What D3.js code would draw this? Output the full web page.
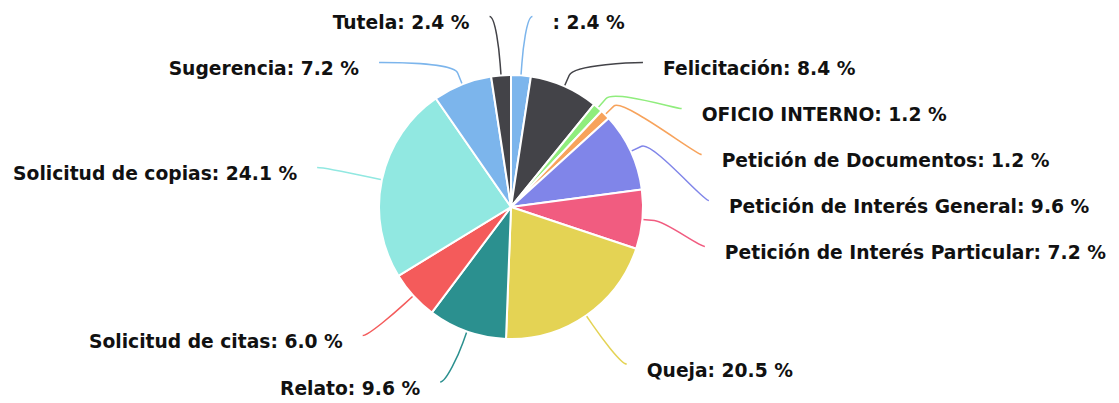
<!DOCTYPE html>
<html>
<head>
<meta charset="utf-8">
<script src="https://cdn.jsdelivr.net/npm/d3@7"></script>
<style>
  body { margin: 0; background: #fff; }
  text { font-family: "DejaVu Sans", sans-serif; font-weight: bold; font-size: 18.7px; fill: #111; }
</style>
</head>
<body>
<div id="chart"></div>
<script>

// Categories and counts (percentages are computed from the counts)
var categories = [
    ''
  , 'Felicitación'
  , 'OFICIO INTERNO'
  , 'Petición de Documentos'
  , 'Petición de Interés General'
  , 'Petición de Interés Particular'
  , 'Queja'
  , 'Relato'
  , 'Solicitud de citas'
  , 'Solicitud de copias'
  , 'Sugerencia'
  , 'Tutela'
];

var counts = [2, 7, 1, 1, 8, 6, 17, 8, 5, 20, 6, 2];

var colors = [
    '#7cb5ec', '#434348', '#90ed7d', '#f7a35c', '#8085e9', '#f15c80'
  , '#e4d354', '#2b908f', '#f45b5b', '#91e8e1', '#7cb5ec', '#434348'
];


var width = 1119
  , height = 403
  , cx = 511
  , cy = 207
  , radius = 132
  , labelRadius = 191
  , padding = 7
  , lineHeight = 46
  , minY = 15 - cy
  , maxY = 382 - cy;

var total = d3.sum(counts);

var data = categories.map(function(c, i) {
  return { name: c, value: counts[i], color: colors[i] };
});

var svg = d3.select('#chart').append('svg')
    .attr('width', width)
    .attr('height', height)
  .append('g')
    .attr('transform', 'translate(' + cx + ',' + cy + ')');

var pie = d3.pie().sort(null).value(function(d) { return d.value; });
var arc = d3.arc().innerRadius(0).outerRadius(radius);
var arcs = pie(data);


/**
 * Label layout: natural position on a bigger circle,
 * then push labels apart on each side.
 */
arcs.forEach(function(d) {
  d.mid = (d.startAngle + d.endAngle) / 2;
  d.side = d.mid < Math.PI ? 1 : -1;
  d.natY = -Math.cos(d.mid) * labelRadius;
  d.ly = d.natY;
});

[1, -1].forEach(function(side) {
  var list = arcs.filter(function(d) { return d.side === side; })
    .sort(function(a, b) { return a.ly - b.ly; });
  var i;
  for (i = 0; i < list.length; i++) {
    list[i].ly = Math.max(list[i].ly, minY);
    if (i > 0) list[i].ly = Math.max(list[i].ly, list[i - 1].ly + lineHeight);
  }
  for (i = list.length - 1; i >= 0; i--) {
    list[i].ly = Math.min(list[i].ly, maxY);
    if (i < list.length - 1) list[i].ly = Math.min(list[i].ly, list[i + 1].ly - lineHeight);
  }
});

// labels stuck at top / bottom keep their natural x
arcs.forEach(function(d) {
  var y = (d.ly < minY + 2 || d.ly > maxY - 2) ? d.natY : d.ly;
  y = Math.max(-labelRadius, Math.min(labelRadius, y));
  d.lx = d.side * (Math.sqrt(labelRadius * labelRadius - y * y) + padding);
});


function connector(d) {
  var tx = Math.sin(d.mid) * radius
    , ty = -Math.cos(d.mid) * radius
    , bx = Math.sin(d.mid) * (radius + 12)
    , by = -Math.cos(d.mid) * (radius + 12);
  return 'M' + d.lx + ',' + d.ly
    + 'C' + (d.lx - 6 * d.side) + ',' + d.ly
    + ' ' + (2 * bx - tx) + ',' + (2 * by - ty)
    + ' ' + bx + ',' + by
    + 'L' + tx + ',' + ty;
}

// connectors
svg.selectAll('path.connector')
    .data(arcs)
  .enter().append('path')
    .attr('class', 'connector')
    .attr('d', connector)
    .attr('fill', 'none')
    .attr('stroke', function(d) { return d.data.color; })
    .attr('stroke-width', 1.5);

// slices
svg.selectAll('path.slice')
    .data(arcs)
  .enter().append('path')
    .attr('class', 'slice')
    .attr('d', arc)
    .attr('fill', function(d) { return d.data.color; })
    .attr('stroke', '#fff')
    .attr('stroke-width', 2)
    .attr('stroke-linejoin', 'round');

// labels
svg.selectAll('text.label')
    .data(arcs)
  .enter().append('text')
    .attr('class', 'label')
    .attr('x', function(d) { return d.lx + 20 * d.side; })
    .attr('y', function(d) { return d.ly + 6; })
    .attr('dy', '0.35em')
    .attr('text-anchor', function(d) { return d.side > 0 ? 'start' : 'end'; })
    .text(function(d) {
      return d.data.name + ': ' + (d.data.value / total * 100).toFixed(1) + ' %';
    });

</script>
</body>
</html>
